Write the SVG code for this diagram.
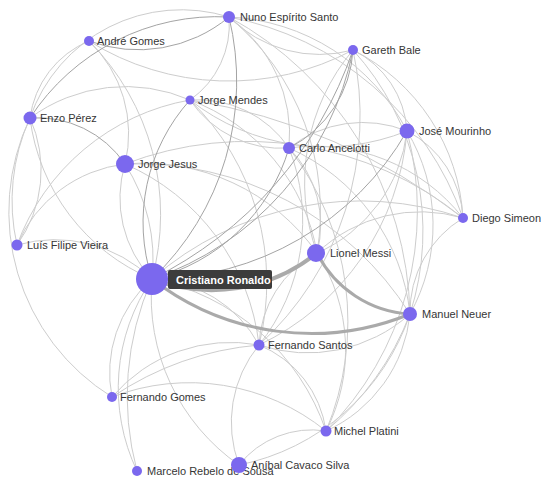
<svg xmlns="http://www.w3.org/2000/svg" width="541" height="479" viewBox="0 0 541 479">
<style>
.e path{fill:none}
.l{stroke:#cdcdcd;stroke-width:1}
.d{stroke:#a4a4a4;stroke-width:1}
.t{stroke:#aaaaaa}
.n circle{fill:#7b68ee}
.n text{font-family:"Liberation Sans",Arial,sans-serif;font-size:11px;fill:#363636}
.hl rect{fill:#3c3c3c}
.hl text{font-family:"Liberation Sans",Arial,sans-serif;font-size:11px;font-weight:bold;fill:#ffffff}
</style>
<rect width="541" height="479" fill="#ffffff"/>
<g id="connectors" class="e">
<path class="l" d="M152 279 A118 118 0 0 1 125 164"/>
<path class="l" d="M125 164 A177 177 0 0 1 152 279"/>
<path class="l" d="M89 41 A246 246 0 0 1 152 279"/>
<path class="l" d="M152 279 A202 202 0 0 1 30 118"/>
<path class="l" d="M17 245 A139 139 0 0 1 152 279"/>
<path class="l" d="M152 279 A317 317 0 0 1 463 218"/>
<path class="l" d="M152 279 A126 126 0 0 1 259 345"/>
<path class="l" d="M112 397 A125 125 0 0 1 152 279"/>
<path class="l" d="M137 471 A193 193 0 0 1 152 279"/>
<path class="l" d="M137 471 A290 290 0 0 1 152 279"/>
<path class="l" d="M239 465 A205 205 0 0 1 152 279"/>
<path class="l" d="M152 279 A231 231 0 0 1 326 431"/>
<path class="l" d="M317 253 A206 206 0 0 1 353 50"/>
<path class="l" d="M289 148 A109 109 0 0 1 317 253"/>
<path class="l" d="M407 131 A152 152 0 0 1 317 253"/>
<path class="l" d="M317 253 A150 150 0 0 1 463 218"/>
<path class="l" d="M229 17 A252 252 0 0 1 317 253"/>
<path class="l" d="M190 100 A199 199 0 0 1 317 253"/>
<path class="l" d="M259 345 A109 109 0 0 1 317 253"/>
<path class="l" d="M317 253 A178 178 0 0 1 326 431"/>
<path class="l" d="M125 164 A212 212 0 0 1 317 253"/>
<path class="l" d="M410 314 A110 110 0 0 1 463 218"/>
<path class="l" d="M407 131 A183 183 0 0 1 410 314"/>
<path class="l" d="M353 50 A270 270 0 0 1 410 314"/>
<path class="l" d="M229 17 A348 348 0 0 1 410 314"/>
<path class="l" d="M289 148 A205 205 0 0 1 410 314"/>
<path class="l" d="M410 314 A144 144 0 0 1 326 431"/>
<path class="l" d="M410 314 A288 288 0 0 1 326 431"/>
<path class="l" d="M410 314 A228 228 0 0 1 239 465"/>
<path class="l" d="M410 314 A154 154 0 0 1 259 345"/>
<path class="l" d="M229 17 A144 144 0 0 1 289 148"/>
<path class="l" d="M190 100 A110 110 0 0 1 289 148"/>
<path class="l" d="M289 148 A110 110 0 0 1 190 100"/>
<path class="l" d="M289 148 A119 119 0 0 1 407 131"/>
<path class="l" d="M289 148 A199 199 0 0 1 259 345"/>
<path class="l" d="M289 148 A285 285 0 0 1 326 431"/>
<path class="l" d="M289 148 A188 188 0 0 1 463 218"/>
<path class="l" d="M30 118 A160 160 0 0 1 229 17"/>
<path class="l" d="M30 118 A97 97 0 0 1 89 41"/>
<path class="l" d="M112 397 A218 218 0 0 1 30 118"/>
<path class="l" d="M30 118 A128 128 0 0 1 17 245"/>
<path class="l" d="M17 245 A200 200 0 0 1 30 118"/>
<path class="l" d="M17 245 A135 135 0 0 1 125 164"/>
<path class="l" d="M17 245 A226 226 0 0 1 190 100"/>
<path class="l" d="M30 118 A161 161 0 0 1 190 100"/>
<path class="l" d="M229 17 A92 92 0 0 1 190 100"/>
<path class="l" d="M190 100 A595 595 0 0 1 463 218"/>
<path class="l" d="M407 131 A219 219 0 0 1 190 100"/>
<path class="l" d="M190 100 A255 255 0 0 1 259 345"/>
<path class="l" d="M89 41 A128 128 0 0 1 125 164"/>
<path class="l" d="M353 50 A264 264 0 0 1 89 41"/>
<path class="l" d="M353 50 A128 128 0 0 1 229 17"/>
<path class="l" d="M353 50 A97 97 0 0 1 407 131"/>
<path class="l" d="M353 50 A201 201 0 0 1 463 218"/>
<path class="l" d="M353 50 A310 310 0 0 1 259 345"/>
<path class="l" d="M229 17 A211 211 0 0 1 407 131"/>
<path class="l" d="M407 131 A104 104 0 0 1 463 218"/>
<path class="l" d="M407 131 A260 260 0 0 1 259 345"/>
<path class="l" d="M407 131 A311 311 0 0 1 326 431"/>
<path class="l" d="M229 17 A309 309 0 0 1 463 218"/>
<path class="l" d="M112 397 A156 156 0 0 1 259 345"/>
<path class="l" d="M112 397 A312 312 0 0 1 259 345"/>
<path class="l" d="M239 465 A122 122 0 0 1 259 345"/>
<path class="l" d="M259 345 A109 109 0 0 1 326 431"/>
<path class="l" d="M112 397 A217 217 0 0 1 326 431"/>
<path class="l" d="M239 465 A93 93 0 0 1 326 431"/>
<path class="l" d="M125 164 A225 225 0 0 1 259 345"/>
<path class="l" d="M125 164 A322 322 0 0 1 410 314"/>
<path class="l" d="M125 164 A342 342 0 0 1 463 218"/>
<path class="d" d="M229 17 A273 273 0 0 1 152 279"/>
<path class="d" d="M353 50 A305 305 0 0 1 152 279"/>
<path class="d" d="M353 50 A400 400 0 0 1 152 279"/>
<path class="d" d="M407 131 A295 295 0 0 1 152 279"/>
<path class="d" d="M289 148 A190 190 0 0 1 152 279"/>
<path class="d" d="M152 279 A183 183 0 0 1 190 100"/>
<path class="d" d="M229 17 A142 142 0 0 1 89 41"/>
<path class="d" d="M30 118 A223 223 0 0 1 229 17"/>
<path class="d" d="M30 118 A106 106 0 0 1 125 164"/>
<path class="d" d="M353 50 A117 117 0 0 1 289 148"/>
<path class="t" stroke-width="4" d="M317 253 A167 167 0 0 1 152 279"/>
<path class="t" stroke-width="3" d="M410 314 A260 260 0 0 1 152 279"/>
<path class="t" stroke-width="3" d="M410 314 A111 111 0 0 1 317 253"/>
</g>
<g id="node-nuno" class="n"><circle cx="229" cy="17" r="6"/><text x="240" y="21">Nuno Espírito Santo</text></g>
<g id="node-andre" class="n"><circle cx="89" cy="41" r="5"/><text x="97" y="45">André Gomes</text></g>
<g id="node-gareth" class="n"><circle cx="353" cy="50" r="5"/><text x="362" y="54">Gareth Bale</text></g>
<g id="node-mendes" class="n"><circle cx="190" cy="100" r="4.5"/><text x="198" y="104">Jorge Mendes</text></g>
<g id="node-enzo" class="n"><circle cx="30" cy="118" r="6.5"/><text x="40" y="122">Enzo Pérez</text></g>
<g id="node-mourinho" class="n"><circle cx="407" cy="131" r="7.5"/><text x="419" y="135">José Mourinho</text></g>
<g id="node-ancelotti" class="n"><circle cx="289" cy="148" r="6"/><text x="299" y="152">Carlo Ancelotti</text></g>
<g id="node-jesus" class="n"><circle cx="125" cy="164" r="9"/><text x="138" y="168">Jorge Jesus</text></g>
<g id="node-simeone" class="n"><circle cx="463" cy="218" r="5"/><text x="472" y="222">Diego Simeone</text></g>
<g id="node-vieira" class="n"><circle cx="17" cy="245" r="5.5"/><text x="27" y="249">Luís Filipe Vieira</text></g>
<g id="node-messi" class="n"><circle cx="316" cy="253" r="9"/><text x="330" y="257">Lionel Messi</text></g>
<g id="node-neuer" class="n"><circle cx="410" cy="314" r="7"/><text x="422" y="318">Manuel Neuer</text></g>
<g id="node-santos" class="n"><circle cx="259" cy="345" r="5.5"/><text x="268" y="349">Fernando Santos</text></g>
<g id="node-fgomes" class="n"><circle cx="112" cy="397" r="5"/><text x="120" y="401">Fernando Gomes</text></g>
<g id="node-platini" class="n"><circle cx="326" cy="431" r="5.5"/><text x="334" y="435">Michel Platini</text></g>
<g id="node-marcelo" class="n"><circle cx="137" cy="471" r="5"/><text x="147" y="475">Marcelo Rebelo de Sousa</text></g>
<g id="node-anibal" class="n"><circle cx="239" cy="465" r="8"/><text x="251" y="469">Aníbal Cavaco Silva</text></g>
<g id="node-ronaldo" class="n hl"><circle cx="152" cy="279" r="16"/><rect x="168" y="270" width="104" height="19" rx="2"/><text x="176" y="283.5">Cristiano Ronaldo</text></g>
</svg>
